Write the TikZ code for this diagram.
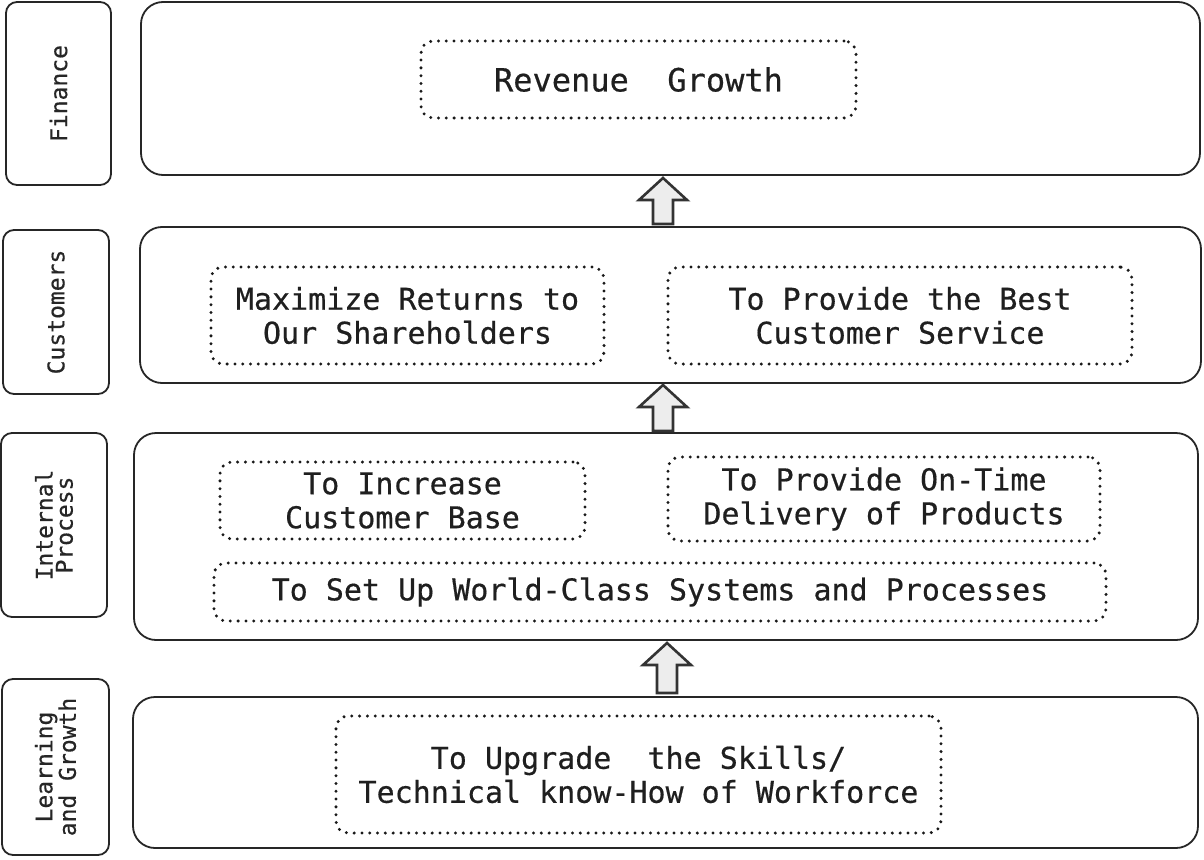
\documentclass[tikz,border=0pt]{standalone}
\usepackage{fontspec}
\setmainfont{DejaVu Sans Mono}[FakeBold=0.5]
\usetikzlibrary{calc}
\tikzset{
  sidebox/.style={draw=black!85, line width=1.8pt, rounded corners=11pt, align=center},
  sidetext/.style={rotate=90, align=center, font=\fontsize{23}{20}\selectfont, text=black!85},
  mainbox/.style={draw=black!85, line width=1.8pt, rounded corners=22pt},
  dotbox/.style={draw=black!90, line width=3.3pt, line cap=round, dash pattern=on 0pt off 7.8pt, rounded corners=12pt, align=center, font=\fontsize{30}{34}\selectfont, text=black!88},
  blockarr/.style={draw=black!80, fill=gray!14, line width=2.6pt, line join=miter}
}
\newcommand{\uparr}[4]{% x, tip y, wing y, bottom y
  \draw[blockarr] (#1-10,#4) -- (#1-10,#3) -- (#1-24,#3) -- (#1,#2) -- (#1+24,#3) -- (#1+10,#3) -- (#1+10,#4) -- cycle;}
\begin{document}
\begin{tikzpicture}[x=1pt,y=-1pt]
\useasboundingbox (0,0) rectangle (1204,859);
% side labels
\node[sidebox, minimum width=105pt, minimum height=183pt] (finS) at (58.5,93.5) {};
\node[sidetext] (finT) at (finS.center) {Finance};
\node[sidebox, minimum width=106pt, minimum height=164pt] (cusS) at (56,312) {};
\node[sidetext] (cusT) at (cusS.center) {Customers};
\node[sidebox, minimum width=106pt, minimum height=184pt] (intS) at (54,525) {};
\node[sidetext] (intT) at (intS.center) {Internal\\Process};
\node[sidebox, minimum width=107pt, minimum height=176pt] (lrnS) at (55.5,767) {};
\node[sidetext] (lrnT) at (lrnS.center) {Learning\\and Growth};
% main boxes
\node[mainbox, minimum width=1059pt, minimum height=173pt] (finM) at (670.5,88.5) {};
\node[mainbox, minimum width=1061pt, minimum height=156pt] (cusM) at (670.5,305) {};
\node[mainbox, minimum width=1064pt, minimum height=207pt] (intM) at (666,536.5) {};
\node[mainbox, minimum width=1065pt, minimum height=151pt] (lrnM) at (665.5,772.5) {};
% dotted objective boxes
\node[dotbox, minimum width=435pt, minimum height=77pt, font=\fontsize{32}{36}\selectfont] (rev) at (638.5,79.5) {Revenue~~Growth};
\node[dotbox, minimum width=393pt, minimum height=97pt] (max) at (407.5,315.5) {Maximize Returns to\\Our Shareholders};
\node[dotbox, minimum width=464pt, minimum height=97pt] (best) at (900,315.5) {To Provide the Best\\Customer Service};
\node[dotbox, minimum width=365pt, minimum height=77pt] (inc) at (402.5,500.5) {To Increase\\Customer Base};
\node[dotbox, minimum width=432pt, minimum height=84pt] (ontime) at (884,499) {To Provide On-Time\\Delivery of Products};
\node[dotbox, minimum width=892pt, minimum height=58pt] (world) at (660,592) {To Set Up World-Class Systems and Processes};
\node[dotbox, minimum width=605pt, minimum height=117pt] (upg) at (638.5,774.5) {To Upgrade~~the Skills/\\Technical know-How of Workforce};
% block arrows between layers
\uparr{663}{178}{200}{224}
\uparr{663}{385}{407}{431}
\uparr{667}{643}{665}{693}
\end{tikzpicture}
\end{document}
